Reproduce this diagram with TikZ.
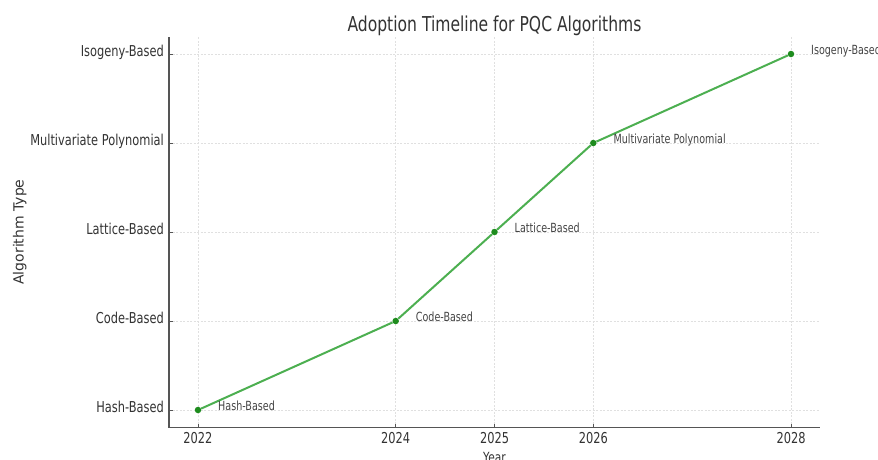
\documentclass[tikz,border=0pt]{standalone}
\usepackage{fontspec}
\setmainfont{DejaVu Sans}[FakeStretch=0.76]
\newfontfamily\ylabelfont{DejaVu Sans}
\usepackage{tikz}
\usetikzlibrary{positioning, arrows.meta, calc}
\definecolor{textgray}{HTML}{333333}
\definecolor{notegray}{HTML}{444444}
\definecolor{spinegray}{HTML}{555555}
\definecolor{gridgray}{HTML}{E0E0E0}
\definecolor{linegreen}{HTML}{4CAF50}
\definecolor{dotgreen}{HTML}{1E8C1E}

\begin{document}
\begin{tikzpicture}[
  x=1pt, y=-1pt,
  ticklabel/.style={text=textgray, font=\fontsize{15}{18}\selectfont, inner sep=0pt},
  note/.style={text=notegray, font=\fontsize{12.6}{15}\selectfont, inner sep=0pt, anchor=base west},
  dot/.style={circle, fill=dotgreen, inner sep=0pt, minimum size=6.5pt},
  trend/.style={linegreen, line width=2pt},
  spine/.style={spinegray, line width=1.3pt},
  gridline/.style={gridgray, line width=0.7pt, dash pattern=on 2pt off 1.5pt},
  tickmark/.style={spinegray, line width=1pt}
]
\useasboundingbox (0,0) rectangle (878,459);

% grid
\foreach \gx in {198,395.7,494.5,593.3,791}
  \draw[gridline] (\gx,427.5) -- (\gx,37);
\foreach \gy in {54,143,232,321,410}
  \draw[gridline] (169,\gy) -- (820,\gy);

% axes
\coordinate (ytop) at (169,37);
\coordinate (corner) at (169,427.5);
\coordinate (xend) at (820,427.5);
\draw[spine] (ytop) -- (corner) -- (xend);

% y ticks
\node[ticklabel, anchor=mid east] (tHash) at (164,410) {Hash-Based};
\node[ticklabel, anchor=mid east] (tCode) at (164,321) {Code-Based};
\node[ticklabel, anchor=mid east] (tLattice) at (164,232) {Lattice-Based};
\node[ticklabel, anchor=mid east] (tMulti) at (164,143) {Multivariate Polynomial};
\node[ticklabel, anchor=mid east] (tIso) at (164,54) {Isogeny-Based};
\foreach \gy in {54,143,232,321,410}
  \draw[tickmark] (169,\gy) -- ++(4,0);

% x ticks
\node[ticklabel, anchor=base] (t2022) at (198,443.5) {2022};
\node[ticklabel, anchor=base] (t2024) at (395.7,443.5) {2024};
\node[ticklabel, anchor=base] (t2025) at (494.5,443.5) {2025};
\node[ticklabel, anchor=base] (t2026) at (593.3,443.5) {2026};
\node[ticklabel, anchor=base] (t2028) at (791,443.5) {2028};
\foreach \gx in {198,395.7,494.5,593.3,791}
  \draw[tickmark] (\gx,427.5) -- ++(0,-4);

% data
\node[dot] (hash) at (198,410) {};
\node[dot] (code) at (395.7,321) {};
\node[dot] (lattice) at (494.5,232) {};
\node[dot] (multi) at (593.3,143) {};
\node[dot] (iso) at (791,54) {};
\draw[trend] (hash) -- (code) -- (lattice) -- (multi) -- (iso);

\node[note] (hashNote) at ([shift={(20,0.5)}]hash) {Hash-Based};
\node[note] (codeNote) at ([shift={(20,0.5)}]code) {Code-Based};
\node[note] (latticeNote) at ([shift={(20,0.5)}]lattice) {Lattice-Based};
\node[note] (multiNote) at ([shift={(20,0.5)}]multi) {Multivariate Polynomial};
\node[note] (isoNote) at ([shift={(20,0.5)}]iso) {Isogeny-Based};

% labels
\node[text=textgray, font=\fontsize{20.5}{24}\selectfont, inner sep=0pt, anchor=base] (title) at (494.5,31) {Adoption Timeline for PQC Algorithms};
\node[text=textgray, font=\fontsize{14}{17}\selectfont, inner sep=0pt, anchor=base] (xlabel) at (494.5,462) {Year};
\node[text=textgray, font=\ylabelfont\fontsize{14}{17}\selectfont, inner sep=0pt, anchor=base, rotate=90] (ylabel) at (23.5,232) {Algorithm Type};
\end{tikzpicture}
\end{document}
